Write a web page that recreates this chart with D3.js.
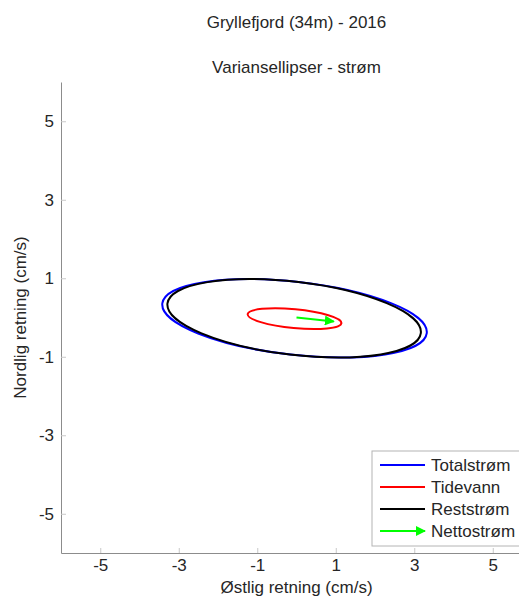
<!DOCTYPE html>
<html>
<head>
<meta charset="utf-8">
<script src="https://cdn.jsdelivr.net/npm/d3@7"></script>
<style>
  body { margin: 0; background: #fff; }
  text { font-family: "Liberation Sans", Arial, sans-serif; fill: #262626; }
</style>
</head>
<body>
<svg id="chart"></svg>
<script>
// Tick values on both axes
const tickValues = [-5, -3, -1, 1, 3, 5];

// Variance ellipses (cm/s): centre, semi-axes, orientation (degrees, counter-clockwise from east)
const ellipseNames = ["Totalstrøm", "Tidevann", "Reststrøm"];
const ellipseColors = ["#0000ff", "#ff0000", "#000000"];
const centerX = [-0.05, -0.05, -0.06];
const centerY = [-0.02, -0.03, -0.02];
const semiMajor = [3.39, 1.20, 3.25];
const semiMinor = [0.93, 0.24, 0.93];
const angleDeg = [-6.4, -5.5, -6.7];

// Net current vector (cm/s)
const netName = "Nettostrøm";
const netU = 0.95;
const netV = -0.10;

const width = 519;
const height = 601;
const margin = { left: 61, top: 82, right: -13, bottom: 48 };
const fontSize = "17px";

const svg = d3.select("#chart")
  .attr("width", width)
  .attr("height", height);

const x = d3.scaleLinear()
  .domain([-6, 6])
  .range([margin.left, width - margin.right]);

const y = d3.scaleLinear()
  .domain([-6, 6])
  .range([height - margin.bottom, margin.top]);

const axisColor = "#8c8c8c";

// Titles
const midX = (x(-6) + x(6)) / 2;
svg.append("text")
  .attr("x", midX).attr("y", 28)
  .attr("text-anchor", "middle")
  .style("font-size", fontSize)
  .text("Gryllefjord (34m) - 2016");
svg.append("text")
  .attr("x", midX).attr("y", 73)
  .attr("text-anchor", "middle")
  .style("font-size", fontSize)
  .text("Variansellipser - strøm");

// Axes (left and bottom only, ticks pointing inward)
const xAxis = svg.append("g")
  .attr("transform", `translate(0,${y(-6)})`)
  .call(d3.axisBottom(x).tickValues(tickValues).tickSizeInner(-5).tickSizeOuter(0).tickPadding(6).tickFormat(d3.format("d")));
const yAxis = svg.append("g")
  .attr("transform", `translate(${x(-6)},0)`)
  .call(d3.axisLeft(y).tickValues(tickValues).tickSizeInner(-5).tickSizeOuter(0).tickPadding(7).tickFormat(d3.format("d")));

[xAxis, yAxis].forEach(g => {
  g.select(".domain").attr("stroke", axisColor);
  g.selectAll(".tick line").attr("stroke", "#c8c8c8");
  g.selectAll(".tick text")
    .style("font-size", fontSize)
    .style("font-family", "'Liberation Sans', Arial, sans-serif")
    .attr("fill", "#262626")
    .text(d => d < 0 ? "-" + Math.abs(d) : d);
});

// Axis labels
svg.append("text")
  .attr("x", midX).attr("y", 593)
  .attr("text-anchor", "middle")
  .style("font-size", fontSize)
  .text("Østlig retning (cm/s)");
svg.append("text")
  .attr("transform", `translate(26,${(y(-6) + y(6)) / 2}) rotate(-90)`)
  .attr("text-anchor", "middle")
  .style("font-size", fontSize)
  .text("Nordlig retning (cm/s)");

// Ellipses
const ellipses = ellipseNames.map((name, i) => ({
  name, color: ellipseColors[i],
  cx: centerX[i], cy: centerY[i], a: semiMajor[i], b: semiMinor[i], ang: angleDeg[i]
}));

svg.append("g")
  .selectAll("ellipse")
  .data(ellipses)
  .join("ellipse")
  .attr("cx", d => x(d.cx))
  .attr("cy", d => y(d.cy))
  .attr("rx", d => x(d.a) - x(0))
  .attr("ry", d => y(0) - y(d.b))
  .attr("transform", d => `rotate(${-d.ang},${x(d.cx)},${y(d.cy)})`)
  .attr("fill", "none")
  .attr("stroke", d => d.color)
  .attr("stroke-width", 2);

// Arrow head marker
svg.append("defs").append("marker")
  .attr("id", "head")
  .attr("viewBox", "0 0 10 10")
  .attr("refX", 9).attr("refY", 5)
  .attr("markerWidth", 5).attr("markerHeight", 5)
  .attr("markerUnits", "strokeWidth")
  .attr("orient", "auto")
  .append("path")
  .attr("d", "M0,0 L10,5 L0,10 Z")
  .attr("fill", "#00ff00");

svg.append("line")
  .attr("x1", x(0)).attr("y1", y(0))
  .attr("x2", x(netU)).attr("y2", y(netV))
  .attr("stroke", "#00ff00")
  .attr("stroke-width", 2)
  .attr("marker-end", "url(#head)");

// Legend
const legendItems = [
  { name: ellipseNames[0], color: ellipseColors[0], arrow: false },
  { name: ellipseNames[1], color: ellipseColors[1], arrow: false },
  { name: ellipseNames[2], color: ellipseColors[2], arrow: false },
  { name: netName, color: "#00ff00", arrow: true }
];

const legend = svg.append("g").attr("transform", "translate(372,451)");
legend.append("rect")
  .attr("width", 160).attr("height", 95)
  .attr("fill", "#fff")
  .attr("stroke", "#b4b4b4");

const rows = legend.selectAll("g.row")
  .data(legendItems)
  .join("g")
  .attr("class", "row")
  .attr("transform", (d, i) => `translate(0,${14 + i * 22})`);

rows.append("line")
  .attr("x1", 8).attr("x2", 53)
  .attr("y1", 0).attr("y2", 0)
  .attr("stroke", d => d.color)
  .attr("stroke-width", 2)
  .attr("marker-end", d => d.arrow ? "url(#head)" : null);

rows.append("text")
  .attr("x", 59).attr("y", 6)
  .style("font-size", fontSize)
  .text(d => d.name);
</script>
</body>
</html>
